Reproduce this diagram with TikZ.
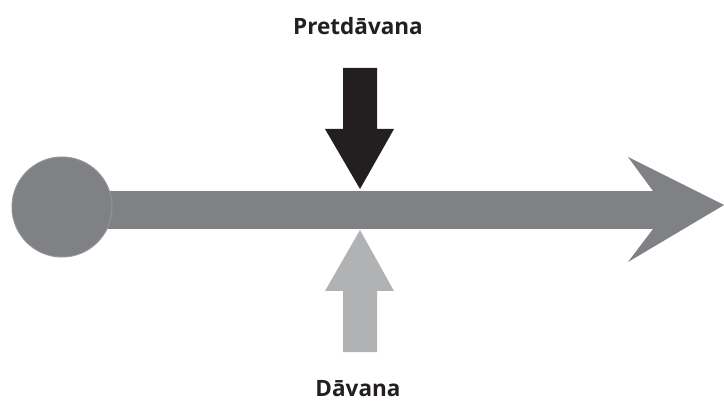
\documentclass[tikz,border=0pt]{standalone}
\usepackage{fontspec}
\setmainfont{Open Sans}
\definecolor{axisgray}{HTML}{808184}
\definecolor{edgegray}{HTML}{939497}
\definecolor{darkarrow}{HTML}{231F20}
\definecolor{lightarrow}{HTML}{B1B2B4}
\begin{document}
\begin{tikzpicture}[x=1pt,y=-1pt,
  lbl/.style={font=\bfseries\fontsize{22.5}{27}\selectfont, text=darkarrow, inner sep=0pt, anchor=base}]
\useasboundingbox[fill=white] (0,0) rectangle (724,401);
% axis shaft
\fill[axisgray] (62,191) rectangle (681,229);
% arrow head
\fill[axisgray] (628,157) -- (724,205) -- (628,262) -- (653,229) -- (653,191) -- cycle;
% start circle
\node[circle, fill=axisgray, draw=edgegray, line width=1pt, minimum size=100pt, inner sep=0pt] (start) at (62,207) {};
% down arrow (Pretdavana)
\fill[darkarrow] (343,68) -- (377,68) -- (377,129) -- (394,129) -- (360,189) -- (325,129) -- (343,129) -- cycle;
% up arrow (Davana)
\fill[lightarrow] (343,352) -- (377,352) -- (377,291) -- (394,291) -- (360,230) -- (325,291) -- (343,291) -- cycle;
\node[lbl] (top) at (358,35) {Pretdāvana};
\node[lbl] (bot) at (358,396) {Dāvana};
\end{tikzpicture}
\end{document}
